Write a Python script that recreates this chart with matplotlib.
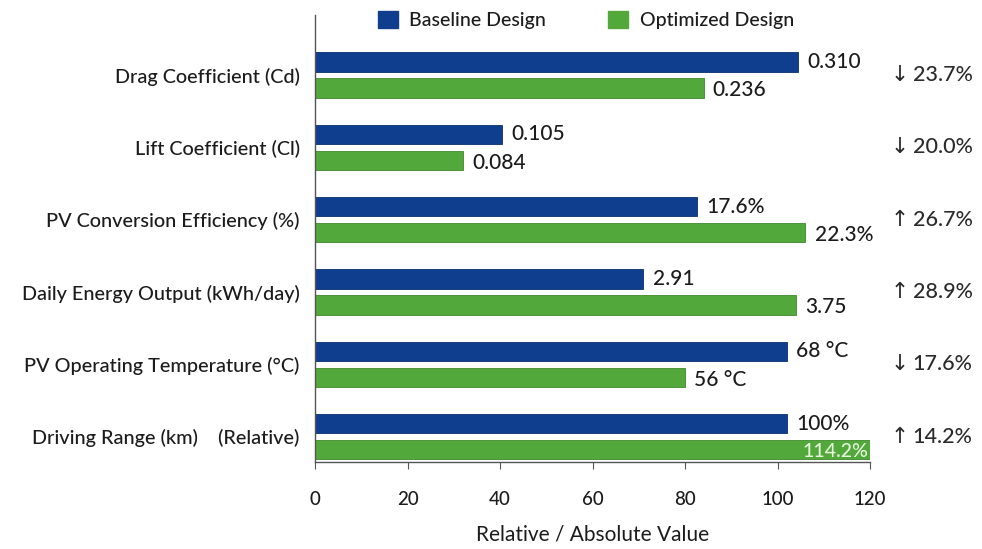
import matplotlib
matplotlib.use("Agg")
import matplotlib.pyplot as plt
import matplotlib.transforms as mtransforms
from matplotlib.patches import Patch
import numpy as np

plt.rcParams['font.family'] = ['Lato', 'DejaVu Sans']
plt.rcParams['font.weight'] = 'medium'

categories = [
    "Drag Coefficient (Cd)",
    "Lift Coefficient (Cl)",
    "PV Conversion Efficiency (%)",
    "Daily Energy Output (kWh/day)",
    "PV Operating Temperature (°C)",
    "Driving Range (km)    (Relative)",
]
baseline_scores = [104.5, 40.5, 82.5, 71.0, 102.0, 102.0]
optimized_scores = [84.0, 32.0, 106.0, 104.0, 80.0, 120.0]
baseline_labels = ["0.310", "0.105", "17.6%", "2.91", "68 °C", "100%"]
optimized_labels = ["0.236", "0.084", "22.3%", "3.75", "56 °C", "114.2%"]
changes = ["↓ 23.7%", "↓ 20.0%", "↑ 26.7%", "↑ 28.9%", "↓ 17.6%", "↑ 14.2%"]
xticks = [0, 20, 40, 60, 80, 100, 120]

BLUE = "#0f3e8e"
GREEN = "#53a83c"
TEXT = "#1c1c1c"

fig = plt.figure(figsize=(9.82, 5.49), dpi=100)
ax = fig.add_axes([315 / 982, 87 / 549, 555 / 982, 447 / 549])

y = np.arange(len(categories))
off = 0.18
h = 0.265
ax.barh(y - off, baseline_scores, height=h, color=BLUE, edgecolor="#0a2f6e", linewidth=0.6)
ax.barh(y + off, optimized_scores, height=h, color=GREEN, edgecolor="#3f8a2c", linewidth=0.6)

for yi, v, lab in zip(y, baseline_scores, baseline_labels):
    ax.text(v + 2.0, yi - off, lab, va="center", ha="left", fontsize=15, color=TEXT)
for i, (yi, v, lab) in enumerate(zip(y, optimized_scores, optimized_labels)):
    if v >= 118:
        ax.text(v - 0.3, yi + off + 0.02, lab, va="center", ha="right", fontsize=14,
                color="#e6f5dc")
    else:
        ax.text(v + 2.0, yi + off + 0.03, lab, va="center", ha="left", fontsize=15,
                color=TEXT)

trans = mtransforms.blended_transform_factory(ax.transAxes, ax.transData)
for yi, c in zip(y, changes):
    arrow, pct = c.split(" ")
    ax.text(1.038, yi, arrow, transform=trans, va="center", ha="left", fontsize=15.5,
            color="#2b2b2b", family=['DejaVu Sans'], fontweight='normal')
    ax.text(1.077, yi, pct, transform=trans, va="center", ha="left", fontsize=15.5,
            color="#2b2b2b")

ax.set_xlim(0, 120)
ax.set_ylim(5.35, -0.83)
ax.set_yticks(y)
ax.set_yticklabels(categories, fontsize=14.3, color=TEXT)
ax.tick_params(axis="y", length=0, pad=11)
ax.set_xticks(xticks)
ax.set_xticklabels([str(t) for t in xticks], fontsize=13.5, color=TEXT)
ax.tick_params(axis="x", length=5, color="#555555", pad=16)
ax.set_xlabel("Relative / Absolute Value", fontsize=15, color=TEXT, labelpad=12)

for s in ["top", "right"]:
    ax.spines[s].set_visible(False)
for s in ["left", "bottom"]:
    ax.spines[s].set_color("#555555")
    ax.spines[s].set_linewidth(1.0)

handles = [Patch(facecolor=BLUE, edgecolor=BLUE), Patch(facecolor=GREEN, edgecolor=GREEN)]
fig.legend(handles, ["Baseline Design", "Optimized Design"], loc="center",
           bbox_to_anchor=(586 / 982, 1 - 20 / 549), ncol=2, frameon=False,
           fontsize=14, handlelength=1.0, handleheight=1.0, handletextpad=0.6,
           columnspacing=3.2, labelcolor=TEXT)

fig.savefig("out.png", dpi=100, facecolor="white")
